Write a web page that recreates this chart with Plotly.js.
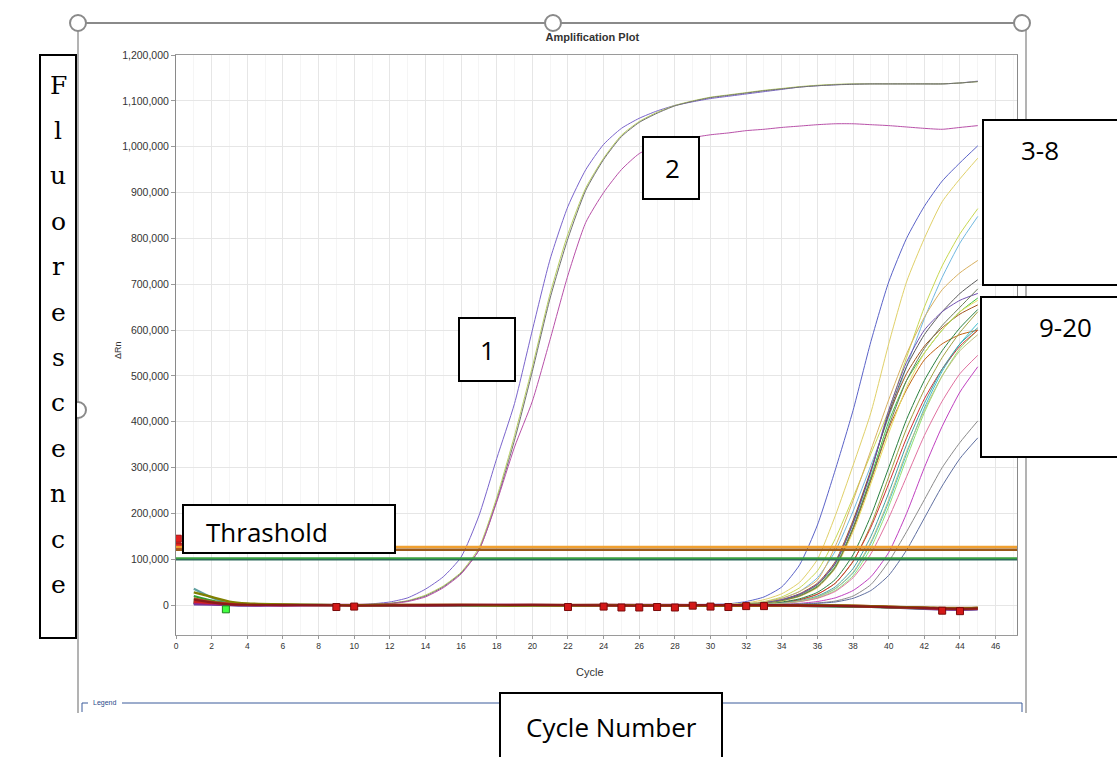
<!DOCTYPE html>
<html>
<head>
<meta charset="utf-8">
<script src="https://cdn.plot.ly/plotly-3.0.1.min.js"></script>
<style>
html,body{margin:0;padding:0;background:#fff;}
#chart{width:1117px;height:757px;}
</style>
</head>
<body>
<div id="chart"></div>
<script>
// ---------------- DATA (ΔRn values in thousands) ----------------
const earlyCycles = [1,2,3,4,5,6,7,8,9,10,11,12,13,14,15,16,17,18,19,20,21,22,23,24,25,26,27,28,29,30,31,32,33,34,35,36,37,38,39,40,41,42,43,44,45];
const earlyPurple  = [6,3,1,0,0,0,0,0,1,1, 3,7,16,35,62,105,195,320,440,600, 755,870,950,1005,1040,1062,1078,1090,1098,1105, 1110,1115,1120,1125,1130,1133,1135,1137,1137,1137, 1137,1137,1137,1139,1143];
const earlyYellowGreen = [4,2,1,0,0,0,0,0,0,1, 2,4,10,22,42,72,125,235,370,520, 680,810,910,975,1025,1055,1075,1090,1100,1108, 1113,1118,1123,1127,1131,1134,1136,1137,1137,1137, 1137,1137,1137,1139,1142];
const earlyGray    = [5,2,1,0,0,0,0,0,0,0, 2,4,9,20,40,70,120,228,360,510, 670,800,905,972,1022,1053,1073,1089,1099,1107, 1112,1117,1122,1126,1130,1133,1135,1136,1137,1137, 1137,1137,1137,1139,1142];
const earlyMagenta = [3,1,0,0,0,0,0,0,0,0, 1,3,8,18,38,68,120,225,345,445, 580,720,835,900,950,985,1003,1013,1020,1026, 1030,1035,1038,1042,1045,1048,1050,1050,1048,1046, 1043,1040,1038,1042,1046];

const lateCycles = [1,3,5,8,10,14,18,22,26,28,30,31,32,33,34,35,36,37,38,39,40,41,42,43,44,45];
const late01 = [8,3,1,0,0,0,0,1,1,1,2, 3,8,18,40,88,175,295,425,575,705,800,870,925,965,1002];
const late02 = [6,2,1,0,0,0,1,0,1,1,1, 2,5,12,25,50,100,195,305,420,570,705,800,880,930,975];
const late03 = [4,2,0,0,0,0,0,1,0,1,1, 1,3,8,18,38,75,145,235,330,425,540,650,740,810,865];
const late04 = [3,1,0,0,1,0,0,0,1,0,1, 1,3,7,15,30,60,118,205,305,410,520,625,715,790,848];
const late05 = [5,2,1,0,0,1,0,0,0,1,1, 1,3,7,15,30,55,128,228,338,448,548,628,688,725,752];
const late06 = [9,4,1,0,0,0,0,1,0,0,1, 1,2,5,12,25,48,95,185,295,415,505,565,605,635,655];
const late07 = [4,2,1,0,0,0,0,0,1,0,1, 1,2,5,11,23,45,90,180,292,418,520,590,640,680,710];
const late08 = [12,5,2,1,0,0,0,0,0,0,1, 1,2,4,10,21,42,85,170,280,400,490,550,600,640,670];
const late09 = [7,3,1,0,0,0,1,0,0,0,1, 1,2,4,10,20,40,82,165,272,385,470,535,570,590,600];
const late10 = [3,1,0,0,0,0,0,0,0,1,1, 1,2,5,12,24,46,92,178,290,425,530,600,640,665,680];
const late11 = [6,2,1,0,0,0,0,0,1,0,0, 1,1,2,4,9,18,36,70,135,225,330,430,510,570,615];
const late12 = [10,4,1,0,0,0,0,0,0,0,1, 1,1,2,4,8,16,32,64,125,215,320,420,500,560,600];
const late13 = [8,3,1,0,0,0,1,0,0,0,0, 1,2,3,6,12,24,48,95,175,280,385,470,540,595,640];
const late14 = [5,2,1,1,0,0,0,0,0,0,0, 1,2,3,6,12,24,48,96,170,265,365,450,515,565,600];
const late15 = [4,2,1,0,0,0,0,0,0,1,0, 1,2,3,7,14,28,56,110,195,300,405,490,555,605,645];
const late16 = [3,1,0,0,0,0,0,0,0,0,0, 1,1,2,4,8,15,30,60,112,190,280,370,445,505,545];
const late17 = [2,1,0,0,0,0,0,0,0,0,0, 0,1,1,2,4,8,16,32,62,115,200,300,390,465,520];
const late18 = [7,3,1,0,0,0,0,0,0,0,0, 1,1,2,5,10,20,40,80,150,245,350,440,515,570,605];
const late19 = [5,2,1,0,0,0,0,0,0,0,0, 1,1,2,4,9,18,36,72,138,230,335,425,500,555,590];
const late20 = [4,1,0,0,0,0,0,0,0,0,0, 0,1,1,2,3,5,9,20,45,95,160,230,300,355,402];
const late21 = [3,1,0,0,0,0,0,0,0,0,0, 0,0,1,1,2,4,7,15,32,65,120,190,260,320,365];
const late22 = [6,2,1,0,0,0,0,0,0,0,1, 1,2,4,9,19,38,80,160,265,375,475,550,600,640,665];
const late23 = [5,2,1,0,0,0,0,0,0,1,1, 1,2,4,10,20,40,82,168,275,390,490,560,610,650,690];

const baseCycles = [1,2,3,4,6,8,10,14,18,22,26,30,34,36,38,40,42,44,45];
const base1 = [12,6,2,1,0,0,-1,0,1,0,-1,0,0,-1,-2,-4,-6,-8,-7];
const base2 = [28,18,8,4,2,1,0,1,0,-1,0,-1,0,0,-1,-3,-5,-7,-6];
const base3 = [5,3,1,0,-1,0,1,-1,1,0,1,0,-1,-1,-2,-4,-7,-9,-8];
const base4 = [20,10,3,2,1,0,0,0,-1,0,0,0,-1,-2,-3,-5,-7,-8,-8];
const base5 = [15,8,4,2,1,1,0,0,0,1,0,-1,-1,-1,-2,-4,-5,-6,-5];
const base6 = [8,5,3,2,1,0,0,1,0,0,-1,-1,0,-1,-1,-3,-6,-8,-7];
const base7 = [36,17,5,2,1,1,0,0,0,0,0,0,0,-1,-2,-4,-6,-9,-8];
const base8 = [2,1,0,-1,0,0,0,-1,0,0,0,0,-1,-2,-3,-5,-8,-10,-9];

const markerCycles = [9,10,22,24,25,26,27,28,29,30,31,32,33,43,44];
const markerValues = [-4,-3,-4,-3,-5,-5,-4,-5,-1,-3,-4,-2,-2,-12,-13];
const greenMarkerCycles = [2.8];
const greenMarkerValues = [-9];
const edgeMarkerCycles = [0.1, 0.1];
const edgeMarkerValues = [128, 145];

const thresholdValues = [127000, 121000, 102000, 99000];
const thresholdColors = ['#f0a030', '#9a5a1a', '#3aa040', '#2d6b5a'];

const yTickMax = 1200000;

// ---------------- BUILD ----------------
const K = v => v.map(a => a * 1000);
function tr(x, y, color, width) {
  return {x: x, y: K(y), type: 'scatter', mode: 'lines',
          line: {color: color, width: width || 1, shape: 'spline', smoothing: 0.6},
          hoverinfo: 'skip'};
}
const traces = [
  tr(earlyCycles, earlyPurple, '#7a64cc'),
  tr(earlyCycles, earlyYellowGreen, '#b8d060'),
  tr(earlyCycles, earlyGray, '#707070'),
  tr(earlyCycles, earlyMagenta, '#b850a8'),
];
const lateSeries = [late01,late02,late03,late04,late05,late06,late07,late08,late09,late10,late11,late12,late13,late14,late15,late16,late17,late18,late19,late20,late21,late22,late23];
const lateColors = ['#5a62c8','#e0d068','#c8d850','#70b8e0','#d8b060','#a0521e','#5a5a5a','#40c040','#c06010',
                    '#7050b0','#40c0d0','#90e070','#a0a040','#d03030','#2a8040','#e070a0','#c040c0','#40a0a0',
                    '#c0c080','#8a8a8a','#5f6fa0','#e8e060','#6a7a5a'];
lateSeries.forEach((s, i) => traces.push(tr(lateCycles, s, lateColors[i])));
const baseSeries = [base8,base7,base4,base3,base5,base6,base2,base1];
const baseColors = ['#6a3d9a','#60a0a0','#30a030','#a02080','#a06020','#d02020','#808000','#8b1a1a'];
baseSeries.forEach((s, i) => traces.push(tr(baseCycles, s, baseColors[i], 2.2)));
traces.push({x: markerCycles, y: K(markerValues), type: 'scatter', mode: 'markers',
  marker: {symbol: 'square', size: 7, color: '#d41818', line: {color: '#7a0a0a', width: 1}}, hoverinfo: 'skip'});
traces.push({x: greenMarkerCycles, y: K(greenMarkerValues), type: 'scatter', mode: 'markers',
  marker: {symbol: 'square', size: 7, color: '#40ff40', line: {color: '#208020', width: 1}}, hoverinfo: 'skip'});
traces.push({x: edgeMarkerCycles, y: K(edgeMarkerValues), type: 'scatter', mode: 'markers',
  marker: {symbol: 'square', size: 7, color: '#e02020', line: {color: '#a01010', width: 1}}, hoverinfo: 'skip'});

// pixel -> paper helpers
const PL = 176, PR = 1017, PT = 55, PB = 635;
const px = x => (x - PL) / (PR - PL);
const py = y => (PB - y) / (PB - PT);

const shapes = [];
thresholdValues.forEach((v, i) => shapes.push({
  type: 'line', xref: 'paper', yref: 'y', x0: 0, x1: 1, y0: v, y1: v,
  line: {color: thresholdColors[i], width: i === 3 ? 1.5 : 2.5}, layer: 'above'}));
function pline(x0, y0, x1, y1, color, w) {
  shapes.push({type: 'line', xref: 'paper', yref: 'paper', x0: px(x0), x1: px(x1), y0: py(y0), y1: py(y1),
               line: {color: color, width: w}, layer: 'above'});
}
function prect(x0, y0, x1, y1) {
  shapes.push({type: 'rect', xref: 'paper', yref: 'paper', x0: px(x0), x1: px(x1), y0: py(y1), y1: py(y0),
               fillcolor: '#ffffff', line: {color: '#000000', width: 2}, layer: 'above'});
}
function pcircle(cx, cy, r) {
  shapes.push({type: 'circle', xref: 'paper', yref: 'paper', x0: px(cx - r), x1: px(cx + r), y0: py(cy + r), y1: py(cy - r),
               fillcolor: '#ffffff', line: {color: '#8a8a8a', width: 2}, layer: 'above'});
}
// selection frame
pline(78, 23, 1022, 23, '#8a8a8a', 2);
pline(78, 23, 78, 713, '#9a9a9a', 1.5);
pline(1026, 30, 1026, 713, '#9a9a9a', 1.5);
pcircle(78, 23, 8); pcircle(553, 23, 8); pcircle(1022, 23, 8); pcircle(78, 410, 8);
// legend strip
pline(122, 703, 1022, 703, '#3a5a9a', 1);
pline(82, 703, 88, 703, '#3a5a9a', 1);
pline(82, 703, 82, 712, '#3a5a9a', 1);
pline(1022, 703, 1022, 712, '#3a5a9a', 1);
// label boxes
prect(40, 55, 76, 638);
prect(183, 505, 395, 553);
prect(459, 318, 515, 381);
prect(643, 137, 699, 199);
prect(983, 120, 1119, 285);
prect(981, 297, 1119, 457);
prect(500, 693, 722, 760);

const boxFont = {family: 'Open Sans, Liberation Sans, sans-serif', size: 26, color: '#000'};
const annotations = [];
function ann(text, x, y, font, opts) {
  annotations.push(Object.assign({text: text, xref: 'paper', yref: 'paper', x: px(x), y: py(y),
    xanchor: 'center', yanchor: 'middle', showarrow: false, font: font}, opts || {}));
}
ann('Thrashold', 204, 532, boxFont, {xanchor: 'left'});
ann('1', 487, 350, boxFont);
ann('2', 672, 168, boxFont);
ann('3-8', 1040, 150, boxFont);
ann('9-20', 1065, 327, boxFont);
ann('Cycle Number', 611, 727, boxFont);
const letters = ['F','l','u','o','r','e','s','c','e','n','c','e'];
letters.forEach((c, i) => ann(c, 58, 85 + i * 45.4, {family: 'DejaVu Serif, Liberation Serif, serif', size: 25, color: '#000'}));
ann('ΔRn', 118, 350, {family: 'Liberation Sans Narrow, Liberation Sans, sans-serif', size: 9, color: '#333'}, {textangle: -90});
ann('Cycle', 590, 672, {family: 'Liberation Sans Narrow, Liberation Sans, sans-serif', size: 11, color: '#333'});
ann('Legend', 104, 703, {family: 'Liberation Sans Narrow, Liberation Sans, sans-serif', size: 7, color: '#2a4a8a'});

const layout = {
  width: 1117, height: 757,
  margin: {l: PL, r: 1117 - PR, t: PT, b: 757 - PB, pad: 0},
  paper_bgcolor: '#ffffff', plot_bgcolor: '#ffffff',
  showlegend: false, hovermode: false,
  title: {text: '<b>Amplification Plot</b>', x: 553 / 1117, xanchor: 'center', xref: 'paper',
          y: 1 - 37 / 757, yanchor: 'middle', yref: 'container',
          font: {family: 'Liberation Sans Narrow, Liberation Sans, sans-serif', size: 11, color: '#333'}},
  xaxis: {range: [0, 47.2], dtick: 2, tick0: 0, showgrid: true, gridcolor: '#e6e6e6', gridwidth: 1,
          minor: {dtick: 1, showgrid: true, gridcolor: '#f5f5f5'},
          zeroline: false, showline: true, linecolor: '#9a9a9a', linewidth: 1, mirror: true,
          ticks: 'outside', ticklen: 3, tickcolor: '#9a9a9a',
          tickfont: {family: 'Liberation Sans Narrow, Liberation Sans, sans-serif', size: 8.5, color: '#333'}},
  yaxis: {range: [-65000, yTickMax], dtick: 100000, tick0: 0, tickformat: ',d',
          showgrid: true, gridcolor: '#e6e6e6', gridwidth: 1,
          zeroline: false, showline: true, linecolor: '#8a8a8a', linewidth: 1, mirror: true,
          ticks: 'outside', ticklen: 4, tickcolor: '#9a9a9a',
          tickfont: {family: 'Liberation Sans, sans-serif', size: 10.5, color: '#333'}},
  shapes: shapes,
  annotations: annotations
};
Plotly.newPlot('chart', traces, layout, {staticPlot: true, displayModeBar: false});
</script>
</body>
</html>
